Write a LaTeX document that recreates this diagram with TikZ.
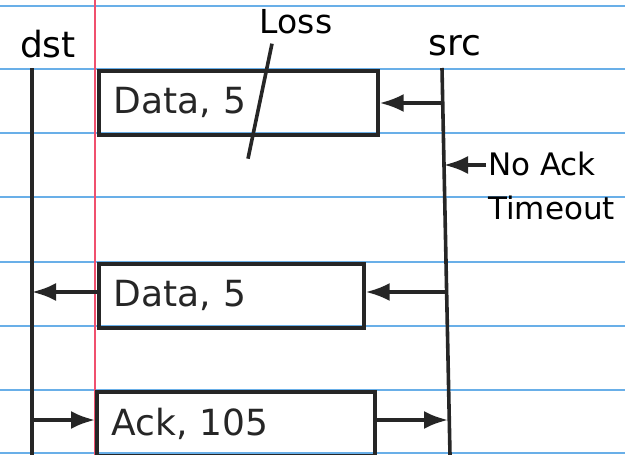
\documentclass[tikz,border=0pt]{standalone}
\usepackage{fontspec}
\setmainfont{DejaVu Sans}
\usetikzlibrary{positioning}
\usetikzlibrary{arrows.meta}
\definecolor{ruleblue}{RGB}{105,175,232}
\definecolor{marginred}{RGB}{240,80,110}
\tikzset{pen/.style={line width=3.6pt,color=black!85}}
\tikzset{msg/.style={pen,-{Latex[length=24pt,width=18pt]}}}
\tikzset{msgbox/.style={draw,pen,minimum height=64pt,inner xsep=15pt,inner ysep=0pt,align=left,font=\fontsize{36}{40}\selectfont}}
\tikzset{hand/.style={inner sep=0pt,font=\fontsize{36}{44}\selectfont}}

\begin{document}
\begin{tikzpicture}[x=1pt,y=-1pt]
    \useasboundingbox (0,0) rectangle (625,455);
    % ruled paper
    \foreach \y in {6,69,133,197,262,326,390,453}
        \draw[ruleblue,line width=1.8pt] (0,\y) -- (625,\y);
    \draw[marginred,line width=1.4pt] (95,0) -- (95,455);
    % lifelines
    \node[hand,anchor=base] (dst) at (48,57) {dst};
    \node[hand,anchor=base] (src) at (455,55) {src};
    \coordinate (dsttop) at (32,68);
    \coordinate (dstbot) at (32,455);
    \coordinate (srctop) at (442,68);
    \coordinate (srcbot) at (450,455);
    \draw[pen] (dsttop) -- (dstbot);
    \draw[pen] (srctop) -- (srcbot);
    % first data, lost
    \node[msgbox,text width=249pt,anchor=north west] (data1) at (97,69) {Data, 5};
    \node[hand,font=\fontsize{33}{36}\selectfont,anchor=base] (loss) at (296,33) {Loss};
    \draw[pen] ([xshift=-24pt,yshift=-10pt]loss.south) -- ++(-24,115);
    \coordinate (s1) at (441,103);
    \draw[msg] (s1) -- (data1.east |- s1);
    % timeout
    \node[hand,font=\fontsize{31}{44}\selectfont,align=left,anchor=north west] (noack) at (488,152) {No Ack\\Timeout};
    \coordinate (s2) at (444,165);
    \draw[msg] (noack.west |- s2) ++(-2,0) -- (s2);
    % retransmit
    \node[msgbox,text width=235pt,anchor=north west] (data2) at (97,262) {Data, 5};
    \coordinate (s3) at (446,292);
    \coordinate (d3) at (32,292);
    \draw[msg] (s3) -- (data2.east |- s3);
    \draw[msg] (data2.west |- d3) -- (d3);
    % ack
    \node[msgbox,text width=248pt,anchor=north west] (ack) at (95,390) {Ack, 105};
    \coordinate (d4) at (32,420);
    \coordinate (s4) at (448,420);
    \draw[msg] (d4) -- (ack.west |- d4);
    \draw[msg] (ack.east |- s4) -- (s4);
\end{tikzpicture}
\end{document}
